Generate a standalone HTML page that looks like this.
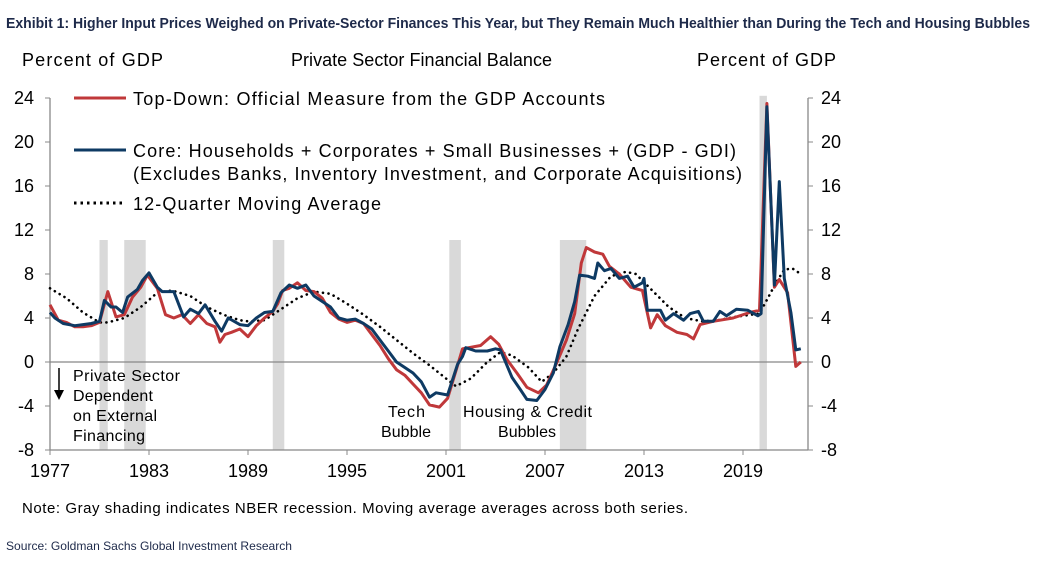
<!DOCTYPE html>
<html><head><meta charset="utf-8"><style>
body{margin:0;background:#fff;}
svg{display:block;font-family:"Liberation Sans",Arial,sans-serif;}
</style></head><body>
<svg id="c" width="1038" height="562" viewBox="0 0 1038 562">
<text x="6" y="28" font-size="15" font-weight="bold" fill="#1e2a4a" textLength="1024" lengthAdjust="spacingAndGlyphs">Exhibit 1: Higher Input Prices Weighed on Private-Sector Finances This Year, but They Remain Much Healthier than During the Tech and Housing Bubbles</text>
<text x="22" y="66" font-size="18" textLength="141">Percent of GDP</text>
<text x="291" y="66" font-size="18" textLength="261">Private Sector Financial  Balance</text>
<text x="697" y="66" font-size="18" textLength="139">Percent of GDP</text>
<g id="rec"></g>
<g id="axes"></g>
<g id="series"></g>
<g>
<line x1="74" y1="98" x2="126" y2="98" stroke="#c0383a" stroke-width="3"/>
<text x="133" y="105" font-size="18" textLength="472">Top-Down:  Official Measure from the GDP Accounts</text>
<line x1="74" y1="150" x2="126" y2="150" stroke="#0e3a63" stroke-width="3"/>
<text x="133" y="157" font-size="18" textLength="603">Core: Households + Corporates + Small Businesses + (GDP - GDI)</text>
<text x="133" y="180" font-size="18" textLength="609">(Excludes Banks, Inventory Investment, and Corporate Acquisitions)</text>
<line x1="74" y1="203" x2="126" y2="203" stroke="#000" stroke-width="3" stroke-dasharray="2.5,4"/>
<text x="133" y="210" font-size="18" textLength="248">12-Quarter Moving Average</text>
</g>
<g font-size="16">
<line x1="59" y1="368" x2="59" y2="392" stroke="#000" stroke-width="1.5"/>
<polygon points="54,390 64,390 59,400" fill="#000"/>
<text x="73" y="381" textLength="107">Private Sector</text>
<text x="73" y="401" textLength="80">Dependent</text>
<text x="73" y="421" textLength="84">on External</text>
<text x="73" y="441" textLength="72">Financing</text>
<text x="388" y="417" textLength="37">Tech</text>
<text x="381" y="437" textLength="50">Bubble</text>
<text x="463" y="417" textLength="129">Housing  &amp; Credit</text>
<text x="498" y="437" textLength="58">Bubbles</text>
</g>
<text x="22" y="513" font-size="15" textLength="666">Note: Gray shading indicates NBER recession. Moving average averages across both series.</text>
<text x="6" y="550" font-size="12" fill="#1e2a4a" textLength="286" lengthAdjust="spacingAndGlyphs">Source: Goldman Sachs Global Investment Research</text>
</svg>
<script>
const yTicks=[24,20,16,12,8,4,0,-4,-8];
const xTickYears=[1977,1983,1989,1995,2001,2007,2013,2019];
const recessions=[[1980.0,1980.5],[1981.5,1982.8],[1990.5,1991.2],[2001.2,2001.9],[2007.9,2009.5],[2020.0,2020.45]];
const redYears=[1977.0,1977.5,1978.0,1978.5,1979.0,1979.5,1980.0,1980.5,1981.0,1981.5,1982.0,1982.5,1982.9,1983.5,1984.0,1984.5,1985.0,1985.5,1986.0,1986.5,1987.0,1987.3,1987.6,1988.0,1988.5,1989.0,1989.5,1990.0,1990.5,1990.8,1991.1,1991.5,1992.0,1992.5,1993.0,1993.5,1994.0,1994.5,1995.0,1995.5,1996.0,1996.6,1997.0,1997.5,1998.0,1998.5,1999.0,1999.5,2000.0,2000.6,2001.1,2001.7,2002.0,2003.1,2003.7,2004.2,2004.7,2005.3,2005.9,2006.6,2007.1,2007.7,2008.3,2008.8,2009.2,2009.5,2010.0,2010.5,2010.9,2011.5,2012.2,2012.9,2013.4,2013.8,2014.3,2015.0,2015.6,2016.0,2016.4,2017.2,2018.4,2019.4,2020.0,2020.45,2020.9,2021.2,2021.7,2022.2,2022.5];
const redVals=[5.2,3.8,3.6,3.2,3.2,3.3,3.6,6.4,4.1,4.3,5.9,6.8,7.9,6.7,4.3,4.0,4.3,3.5,4.3,3.5,3.2,1.8,2.5,2.7,3.0,2.3,3.3,4.0,4.6,5.3,6.5,6.7,7.2,6.5,6.4,5.8,4.5,3.9,3.6,3.8,3.5,2.3,1.5,0.3,-0.7,-1.2,-2.0,-2.8,-3.9,-4.1,-3.3,-0.3,1.2,1.5,2.3,1.6,0.2,-1.0,-2.3,-2.8,-2.1,-0.1,2.0,4.4,9.0,10.4,10.0,9.8,8.7,8.0,6.8,6.5,3.1,4.3,3.3,2.7,2.5,2.1,3.4,3.7,4.0,4.5,4.7,23.5,6.8,7.5,6.3,-0.4,0.0];
const blueYears=[1977.0,1977.3,1977.8,1978.5,1979.0,1979.5,1980.0,1980.3,1980.7,1981.0,1981.4,1981.7,1982.3,1982.6,1983.0,1983.5,1983.8,1984.5,1985.1,1985.5,1986.0,1986.4,1987.0,1987.4,1987.8,1988.5,1989.0,1989.5,1990.0,1990.5,1991.0,1991.5,1992.0,1992.5,1993.0,1993.5,1994.0,1994.5,1995.0,1995.5,1996.0,1996.5,1997.0,1997.5,1998.0,1998.5,1999.0,1999.5,2000.0,2000.4,2001.1,2001.7,2002.0,2002.2,2002.8,2003.5,2004.0,2004.3,2005.0,2005.5,2005.9,2006.5,2007.0,2007.5,2007.9,2008.4,2008.8,2009.1,2009.6,2010.0,2010.2,2010.6,2011.0,2011.5,2012.0,2012.4,2012.9,2013.0,2013.2,2014.0,2014.3,2014.8,2015.4,2015.8,2016.3,2016.6,2017.2,2017.6,2018.0,2018.6,2019.3,2019.9,2020.1,2020.45,2020.9,2021.2,2021.5,2021.9,2022.2,2022.5];
const blueVals=[4.5,4.0,3.5,3.3,3.4,3.5,3.7,5.6,5.0,5.0,4.5,5.9,6.6,7.4,8.1,6.8,6.4,6.4,4.1,4.8,4.4,5.2,3.7,2.8,4.0,3.4,3.3,4.0,4.5,4.6,6.3,7.0,6.7,7.0,6.0,5.5,5.0,4.0,3.8,3.9,3.5,3.0,2.0,1.0,0.0,-0.5,-1.0,-1.8,-3.2,-2.8,-3.0,-0.2,0.5,1.3,1.0,1.0,1.2,1.1,-1.4,-2.5,-3.4,-3.5,-2.5,-1.0,1.4,3.4,5.5,7.9,7.8,7.6,9.0,8.3,8.5,7.6,7.8,6.8,7.2,7.6,4.7,4.7,3.8,4.4,3.8,4.4,4.6,3.7,3.7,4.6,4.2,4.8,4.7,4.2,4.4,23.2,7.0,16.4,7.6,4.5,1.1,1.2];
const maYears=[1977.0,1978.0,1979.0,1980.0,1980.5,1981.5,1982.5,1983.5,1984.4,1985.5,1986.5,1987.5,1988.5,1989.0,1990.0,1991.0,1992.0,1993.0,1994.0,1995.0,1996.0,1997.0,1998.0,1999.0,2000.0,2001.0,2001.6,2002.5,2003.5,2004.3,2005.0,2006.0,2006.8,2007.5,2008.3,2009.0,2010.0,2011.0,2011.9,2012.5,2013.5,2014.5,2015.5,2016.5,2017.5,2018.5,2019.5,2020.0,2020.5,2021.0,2021.5,2022.0,2022.5];
const maVals=[6.7,5.8,4.5,3.6,3.6,4.0,5.0,6.3,6.5,6.0,5.0,4.3,3.8,3.7,3.8,4.8,5.8,6.4,6.2,5.3,4.3,3.2,2.0,0.8,-0.3,-1.5,-2.2,-1.5,0.0,0.9,0.6,-0.5,-1.8,-1.0,0.5,3.0,6.0,7.8,8.2,8.0,6.5,5.0,4.0,3.7,3.8,4.1,4.3,4.4,5.8,7.2,8.4,8.5,8.0];

const NS='http://www.w3.org/2000/svg';
const X0=50,X1=808,YT=98,YB=450;
function xs(yr){return X0+(yr-1977)*16.5;}
function ys(v){return 362-v*11;}
function mk(tag,attrs,parent){const e=document.createElementNS(NS,tag);for(const k in attrs)e.setAttribute(k,attrs[k]);parent.appendChild(e);return e;}
const rec=document.getElementById('rec');
recessions.forEach(r=>{
  const top=r[0]>=2020?ys(24.2):240;
  const el=mk('rect',{x:xs(r[0]),y:top,width:xs(r[1])-xs(r[0]),height:YB-top,fill:'#d9d9d9'},rec);
  
  
});
const ax=document.getElementById('axes');
const z=mk('line',{x1:X0,x2:X1,y1:ys(0),y2:ys(0),stroke:'#888','stroke-width':1.3},ax);


const la=mk('line',{x1:X0,x2:X0,y1:YT,y2:YB,stroke:'#888','stroke-width':1.3},ax);


const ra=mk('line',{x1:X1,x2:X1,y1:YT,y2:YB,stroke:'#888','stroke-width':1.3},ax);


const xa=mk('line',{x1:X0,x2:X1,y1:YB,y2:YB,stroke:'#888','stroke-width':1.3},ax);


yTicks.forEach(v=>{
  const y=ys(v);
  mk('line',{x1:X0-5,x2:X0,y1:y,y2:y,stroke:'#888'},ax);
  mk('line',{x1:X1,x2:X1+5,y1:y,y2:y,stroke:'#888'},ax);
  const t=mk('text',{x:34,y:y+6,'font-size':18,'text-anchor':'end'},ax);t.textContent=v;
  
  
  const t2=mk('text',{x:821,y:y+6,'font-size':18},ax);t2.textContent=v;
  
  
});
xTickYears.forEach(yr=>{
  const x=xs(yr);
  mk('line',{x1:x,x2:x,y1:YB,y2:YB+5,stroke:'#888'},ax);
  const t=mk('text',{x:x,y:477,'font-size':18,'text-anchor':'middle'},ax);t.textContent=yr;
  
  
});
const sg=document.getElementById('series');
function line(yrs,vals,attrs,name){
  const d=yrs.map((yr,i)=>(i?'L':'M')+xs(yr).toFixed(1)+','+ys(vals[i]).toFixed(1)).join('');
  const p=mk('path',Object.assign({d:d,fill:'none','stroke-linejoin':'round'},attrs),sg);
  
  
}
line(maYears,maVals,{stroke:'#000','stroke-width':2.6,'stroke-dasharray':'0.1,5.5','stroke-linecap':'round'},'moving-average-line');
line(redYears,redVals,{stroke:'#c0383a','stroke-width':3},'top-down-line');
line(blueYears,blueVals,{stroke:'#0e3a63','stroke-width':3},'core-line');
</script>
</body></html>
